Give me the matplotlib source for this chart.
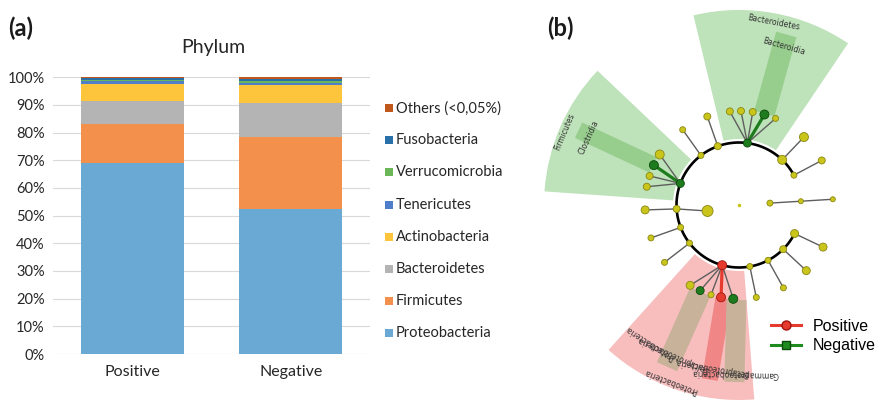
import matplotlib
matplotlib.use('Agg')
import matplotlib.pyplot as plt
import numpy as np
from matplotlib.patches import Wedge, Polygon, Rectangle
from matplotlib.lines import Line2D

plt.rcParams['font.family'] = ['Lato', 'DejaVu Sans']

W, H = 878, 401

# ---------------- Panel (a) data ----------------
groups = ['Positive', 'Negative']
phyla = ['Proteobacteria', 'Firmicutes', 'Bacteroidetes', 'Actinobacteria',
         'Tenericutes', 'Verrucomicrobia', 'Fusobacteria', 'Others (<0,05%)']
positive = [69.0, 14.1, 8.2, 6.3, 1.2, 0.2, 0.6, 0.4]
negative = [52.4, 26.1, 12.3, 6.3, 0.7, 1.0, 0.6, 0.6]
phylum_colors = ['#6AA9D4', '#F2904C', '#B4B4B4', '#FDC53C',
                 '#4F7FCB', '#6CB65A', '#2A70A8', '#C0581C']
yticks = list(range(0, 101, 10))
ytick_labels = [f'{v}%' for v in yticks]

# ---------------- Panel (b) data (cladogram) ----------------
R_INNER, R_ARC, R_OUTER = 31, 62.5, 94
arc_span = (28.5, 332.8)
phylum_ang = [28.5, 46.3, 82.3, 109.8, 127.5, 159.8, 183.6, 201.0, 217.6,
              254.4, 280.0, 297.7, 315.0, 332.8]
phylum_size = [6, 9, 8, 7, 6, 8, 7, 6, 6, 9, 6, 6, 7, 8]
phylum_kind = ['y', 'y', 'g', 'y', 'y', 'g', 'y', 'y', 'y', 'r', 'y', 'y', 'y', 'y']
child_parent = [0, 1, 2, 2, 2, 2, 2, 3, 4, 5, 5, 5, 5, 6, 6, 7, 8,
                9, 9, 9, 9, 9, 10, 11, 12, 13]
child_ang = [28.3, 46.3, 95.6, 88.8, 81.6, 74.3, 67.1, 109.7, 126.8,
             147.5, 154.9, 162.0, 168.8, 183.0, 190.8, 200.5, 217.6,
             238.7, 245.6, 252.7, 259.0, 266.5, 280.6, 298.2, 315.7, 333.4]
child_r = [94, 94, 94, 94, 94, 94, 94, 94, 94, 94, 94, 94, 94, 94, 32, 94, 94,
           94, 94, 94, 94, 94, 94, 94, 94, 94]
child_size = [7, 9, 7, 7, 7, 9, 6, 7, 6, 9, 9, 7, 7, 8, 11, 6, 6,
              8, 8, 6, 9, 9, 6, 6, 8, 8]
child_kind = ['y', 'y', 'y', 'y', 'y', 'g', 'y', 'y', 'y', 'y', 'g', 'y', 'y', 'y', 'y', 'y', 'y',
              'y', 'g', 'y', 'r', 'g', 'y', 'y', 'y', 'y']
branch_ang = 3.5
branch_r = [31, 62, 94]
branch_size = [6, 5, 5]

clade_t1 = [56.0, 136.5, 228.0]
clade_t2 = [103.5, 176.0, 274.5]
clade_col = ['#BEE2B9', '#BEE2B9', '#F8BEBE']
strip_ang = [74.5, 155.0, 246.0, 260.5, 268.5]
strip_w = [21, 17, 22, 16, 20]
strip_col = ['#97CE8E', '#97CE8E', '#C9B29A', '#F08686', '#C9B29A']

lab_text = ['Bacteroidetes', 'Bacteroidia', 'Firmicutes', 'Clostridia',
            'Proteobacteria', 'Proteobacteria', 'Deltaproteobacteria',
            'Betaproteobacteria', 'Gammaproteobacteria']
lab_ang = [79.3, 74.2, 157.2, 155.6, 249.0, 237.2, 246.0, 260.5, 268.5]
lab_r = [186, 165, 189, 165, 189, 164.5, 163, 165, 168]

kind_face = {'y': '#C9C51B', 'g': '#1E7B1E', 'r': '#E53B2F'}
kind_edge = {'y': '#8A8612', 'g': '#0B4A0B', 'r': '#A3150E'}
kind_line = {'g': '#1E7B1E', 'r': '#E53B2F'}

TXT = '#262626'

fig = plt.figure(figsize=(W / 100, H / 100), dpi=100)

# ---------------- Panel (a) ----------------
ax = fig.add_axes([53 / W, 47 / H, 317 / W, 276.7 / H])
x = np.arange(len(groups))
bottoms = np.zeros(len(groups))
for i, name in enumerate(phyla):
    vals = np.array([positive[i], negative[i]]) / 100.0
    ax.bar(x, vals, width=0.65, bottom=bottoms, color=phylum_colors[i],
           edgecolor='none', zorder=2)
    bottoms += vals
ax.set_xlim(-0.5, 1.5)
ax.set_ylim(0, 1.0)
ax.set_yticks([v / 100 for v in yticks])
ax.set_yticklabels(ytick_labels)
ax.set_xticks(x)
ax.set_xticklabels(groups)
ax.grid(axis='y', color='#D9D9D9', linewidth=0.8, zorder=0)
ax.set_axisbelow(True)
for s in ax.spines.values():
    s.set_visible(False)
ax.tick_params(axis='both', length=0, colors=TXT)
ax.tick_params(axis='y', labelsize=10.5, pad=6)
ax.tick_params(axis='x', labelsize=11.5, pad=8)

fig.text(213 / W, 1 - 47 / H, 'Phylum', ha='center', va='center',
         fontsize=14, color=TXT)
fig.text(8 / W, 1 - 28 / H, '(a)', ha='left', va='center', fontsize=17,
         fontweight='bold', color='#1A1A1A')

# legend of panel (a), top to bottom = reversed stacking order
leg_y0, leg_dy = 108.3, 32.1
for k, i in enumerate(range(len(phyla) - 1, -1, -1)):
    yy = leg_y0 + k * leg_dy
    fig.patches.append(Rectangle(((385) / W, 1 - (yy + 4) / H), 8 / W, 8 / H,
                                 transform=fig.transFigure,
                                 facecolor=phylum_colors[i], edgecolor='none'))
    fig.text(396 / W, 1 - yy / H, phyla[i], ha='left', va='center',
             fontsize=10.5, color=TXT)

# ---------------- Panel (b) ----------------
cx, cy = 739, 205
axb = fig.add_axes([540 / W, 0, (W - 540) / W, 1])
axb.set_xlim(540 - cx, W - cx)
axb.set_ylim(-(H - cy), cy)
axb.axis('off')


def pol(r, a):
    t = np.deg2rad(a)
    return r * np.cos(t), r * np.sin(t)


for t1, t2, c in zip(clade_t1, clade_t2, clade_col):
    axb.add_patch(Wedge((0, 0), 195, t1, t2, width=195 - 66, facecolor=c,
                        edgecolor='none', zorder=1))
for a, w, c in zip(strip_ang, strip_w, strip_col):
    t = np.deg2rad(a)
    u = np.array([np.cos(t), np.sin(t)])
    n = np.array([-np.sin(t), np.cos(t)])
    pts = [95 * u - w / 2 * n, 177 * u - w / 2 * n, 177 * u + w / 2 * n, 95 * u + w / 2 * n]
    axb.add_patch(Polygon(pts, closed=True, facecolor=c, edgecolor='none',
                          zorder=2))
for txt, a, r in zip(lab_text, lab_ang, lab_r):
    px, py = pol(r, a)
    axb.text(px, py, txt, rotation=a - 90, rotation_mode='anchor',
             ha='center', va='center', fontsize=5.5, color='#333333',
             family='DejaVu Sans', zorder=3)

# arc
ta = np.linspace(arc_span[0], arc_span[1], 300)
ax_, ay_ = pol(R_ARC, ta)
axb.plot(ax_, ay_, color='black', lw=1.9, zorder=4, solid_capstyle='butt')

# links
for p, a, r, k in zip(child_parent, child_ang, child_r, child_kind):
    pa = phylum_ang[p]
    x0, y0 = pol(R_ARC, pa)
    x1, y1 = pol(r, a)
    pk = phylum_kind[p]
    if k != 'y' and k == pk:
        axb.plot([x0, x1], [y0, y1], color=kind_line[k], lw=2.3, zorder=4)
    else:
        axb.plot([x0, x1], [y0, y1], color='#5E5E5E', lw=1.0, zorder=4)
bx, by = pol(np.array(branch_r, dtype=float), branch_ang)
axb.plot(bx, by, color='#5E5E5E', lw=1.0, zorder=4)

# nodes
def nodes(xs, ys, sizes, kinds):
    axb.scatter(xs, ys, s=[(sz * 0.72) ** 2 for sz in sizes],
                c=[kind_face[k] for k in kinds],
                edgecolors=[kind_edge[k] for k in kinds], linewidths=0.6,
                zorder=5)

px_, py_ = pol(R_ARC, np.array(phylum_ang))
nodes(px_, py_, phylum_size, phylum_kind)
cx_, cy_ = pol(np.array(child_r, dtype=float), np.array(child_ang))
nodes(cx_, cy_, child_size, child_kind)
nodes(bx, by, branch_size, ['y'] * len(branch_r))
axb.scatter([0], [0], s=2.5, c=kind_face['y'], zorder=5)

fig.text(547 / W, 1 - 28 / H, '(b)', ha='left', va='center', fontsize=17,
         fontweight='bold', color='#1A1A1A')

handles = [Line2D([], [], color='#E53B2F', lw=2.2, marker='o', ms=6.5,
                  markeredgecolor='#A3150E'),
           Line2D([], [], color='#1E8B1E', lw=2.2, marker='s', ms=6,
                  markeredgecolor='#0B4A0B')]
axb.legend(handles, ['Positive', 'Negative'], loc='center left',
           bbox_to_anchor=(771 / W, 1 - 336 / H), bbox_transform=fig.transFigure,
           frameon=False, handlelength=1.9, handletextpad=0.7,
           labelspacing=0.3, borderpad=0, borderaxespad=0,
           prop={'family': 'Liberation Sans', 'size': 11.5})

fig.savefig('out.png', dpi=100)
